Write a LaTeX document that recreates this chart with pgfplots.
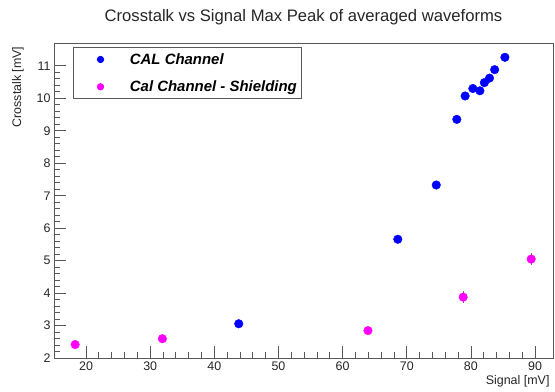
\documentclass[border=0pt]{standalone}
\usepackage{fontspec}
\setmainfont{Liberation Sans}
\usepackage{pgfplots}
\pgfplotsset{compat=1.18}
\definecolor{rootblue}{RGB}{0,0,255}
\definecolor{rootmag}{RGB}{255,0,255}
\begin{document}
\begin{tikzpicture}
\begin{axis}[
  at={(54bp,33.8bp)}, anchor=south west,
  scale only axis, width=499bp, height=315.2bp,
  xmin=15, xmax=92.8, ymin=2, ymax=11.7,
  xtick={20,30,...,90}, ytick={2,3,...,11},
  minor x tick num=4, minor y tick num=4,
  tick align=inside, tick pos=left,
  major tick length=12bp, minor tick length=6bp,
  axis line style={black!65, line width=0.8bp},
  every tick/.style={black!65, line width=0.8bp},
  /pgf/number format/assume math mode=true,
  ticklabel style={font=\fontsize{12.5}{14}\selectfont, black!85},
  title={Crosstalk vs Signal Max Peak of averaged waveforms},
  title style={at={(axis description cs:0.5,1)}, anchor=center, yshift=20bp, font=\fontsize{16.7}{19}\selectfont, black!85},
  xlabel={Signal [mV]},
  xlabel style={at={(axis description cs:1,0)}, anchor=east, yshift=-22.8bp, font=\fontsize{12.5}{14}\selectfont, black!85},
  ylabel={Crosstalk [mV]},
  ylabel style={at={(axis description cs:-0.0721,1)}, anchor=east, font=\fontsize{12.5}{14}\selectfont, black!85},
  legend cell align=left,
  legend image code/.code={\path (0bp,0bp) (51bp,0bp); \draw[mark repeat=2,mark phase=2,#1,mark size=3.2bp] plot coordinates {(0bp,0bp) (24bp,0bp) (48bp,0bp)};},
  legend style={at={(axis description cs:0.0375,0.986)}, anchor=north west,
    draw=black!65, line width=0.8bp, inner xsep=3bp, inner ysep=3.5bp,
    /tikz/row sep=11bp,
    font=\bfseries\itshape\fontsize{15}{18}\selectfont},
]
\addplot[only marks, mark=*, mark size=4.3bp, rootblue, mark options={fill=rootblue, draw=rootblue}]
  coordinates {(43.8,3.06) (68.6,5.66) (74.6,7.33) (77.8,9.35) (79.1,10.07) (80.3,10.30) (81.4,10.23) (82.1,10.48) (82.9,10.62) (83.7,10.88) (85.3,11.26)};
\addlegendentry{CAL Channel}
\addplot[only marks, mark=*, mark size=4.3bp, rootmag, mark options={fill=rootmag, draw=rootmag},
  error bars/.cd, y dir=both, y explicit, error bar style={black!60, line width=0.8bp}, error mark=none]
  coordinates {(18.3,2.42) +- (0,0.08) (31.9,2.60) +- (0,0.08) (63.95,2.85) +- (0,0.08) (78.8,3.88) +- (0,0.18) (89.4,5.05) +- (0,0.18)};
\addlegendentry{Cal Channel - Shielding}
\end{axis}
\pgfresetboundingbox
\path[use as bounding box] (0,0) rectangle (555bp,392bp);
\end{tikzpicture}
\end{document}
